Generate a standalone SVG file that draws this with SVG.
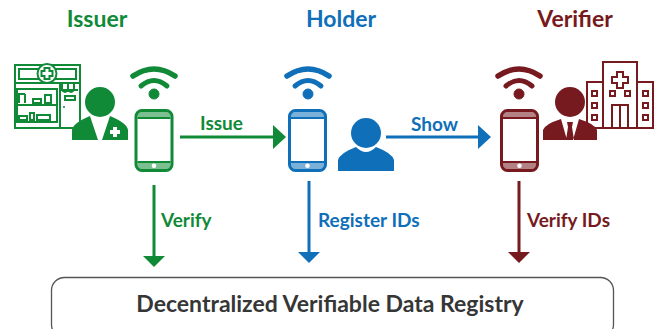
<svg xmlns="http://www.w3.org/2000/svg" width="659" height="329" viewBox="0 0 659 329">
<style>
text{font-family:"Lato","Open Sans","Liberation Sans",sans-serif;font-weight:700}
.g{fill:#108a37}.b{fill:#0f6fb8}.r{fill:#761a20}
.sg{stroke:#108a37}.sb{stroke:#0f6fb8}.sr{stroke:#761a20}
.l{fill:none;stroke-width:2}
.c{stroke-width:3;fill:none}
.w{fill:none;stroke-linecap:round}
.head{font-size:23px;text-anchor:middle}
.lab{font-size:19px}
</style>
<defs>
<g id="wifi">
<path class="w" stroke-width="5.500" d="M-21 -18Q0 -32 21 -18"/>
<path class="w" stroke-width="5" d="M-13 -8Q0 -19 13 -8"/>
<circle r="5" cy="0"/>
</g>
<g id="phone">
<rect x="1.500" y="1.500" width="36" height="60" rx="6" fill="#fff" stroke-width="3" stroke="currentColor"/>
<path d="M3 8V7Q3 3 7 3H32Q36 3 36 7V8Z" fill="currentColor" opacity=".55"/>
<path d="M3 53H36V56Q36 60 32 60H7Q3 60 3 56Z" fill="currentColor" opacity=".55"/>
<rect x="3" y="8" width="33" height="2" fill="currentColor"/>
<rect x="3" y="52" width="33" height="2" fill="currentColor"/>
<circle cx="19.500" cy="56.800" r="2.300" fill="#fff"/>
</g>
</defs>
<g id="connectors">
<path class="c sg" d="M180 137H275"/><path class="g" d="M273 125L286 137L273 149Z"/>
<path class="c sb" d="M386 137H480"/><path class="b" d="M478 125L491 137L478 149Z"/>
<path class="c sg" d="M154 185V258"/><path class="g" d="M143 256H165L154 267Z"/>
<path class="c sb" d="M309 181V254"/><path class="b" d="M298 252H320L309 263Z"/>
<path class="c sr" d="M519 181V254"/><path class="r" d="M508 252H530L519 263Z"/>
</g>
<g id="issuer">
<text class="head g" x="97" y="27">Issuer</text>
<use href="#wifi" x="154" y="94" class="g sg"/>
<use href="#phone" x="134.500" y="109" style="color:#108a37"/>
<g class="l sg">
<rect x="15" y="65" width="65" height="63"/>
<rect x="19" y="69" width="57" height="10"/>
<path d="M15 83H80M17 89H57V122H17ZM17 105H57M60 128V83M60 90H78"/>
<path d="M62 84V90Q65 94 68 90V84M68 90Q71 94 74 90V84"/>
<circle cx="47" cy="73.500" r="9.500" fill="#fff"/>
<path d="M44.500 68h5v3h3v5h-3v3h-5v-3h-3v-5h3z" fill="#fff"/>
<rect x="65" y="96" width="10" height="4"/>
<path d="M19 103V94H25M25 94V103M33 103V99H41V103ZM45 103V95H51V103ZM19 120V116H27V120ZM30 120V113H34V120ZM37 120V115H50V120Z"/>
</g>
<circle cx="64" cy="107" r="1" class="g"/>
<circle cx="100" cy="102" r="15" class="g"/>
<path class="g" d="M72 140V130Q73 123 90 116L98 140ZM128 140V130Q127 123 110 116L102 140Z"/>
<path d="M113 127h4v3h3v4h-3v3h-4v-3h-3v-4h3z" fill="#fff"/>
</g>
<g id="holder">
<text class="head b" x="341" y="27">Holder</text>
<use href="#wifi" x="308" y="94" class="b sb"/>
<use href="#phone" x="288" y="109" style="color:#0f6fb8"/>
<circle cx="366" cy="133" r="15" class="b"/>
<path class="b" d="M338 171V160Q340 153 356 147Q366 157 376 147Q392 153 394 160V171Z"/>
</g>
<g id="verifier">
<text class="head r" x="575" y="27">Verifier</text>
<use href="#wifi" x="519" y="94" class="r sr"/>
<use href="#phone" x="500" y="109" style="color:#761a20"/>
<g class="l sr">
<path d="M603 128V62H637V128M603 82H587V128H653V82H637"/>
<path d="M612 128V105H628V128M620 105V128"/>
<path d="M617 72h6v5h5v6h-5v5h-6v-5h-5v-6h5z"/>
<rect x="592" y="91" width="5" height="5"/><rect x="592" y="103" width="5" height="5"/><rect x="592" y="115" width="5" height="5"/>
<rect x="610" y="91" width="5" height="5"/><rect x="625" y="91" width="5" height="5"/>
<rect x="643" y="91" width="5" height="5"/><rect x="643" y="103" width="5" height="5"/><rect x="643" y="115" width="5" height="5"/>
</g>
<circle cx="570" cy="102" r="15" class="r"/>
<path class="r" d="M543 140V130Q545 124 561 119L567 140ZM597 140V130Q595 124 579 119L573 140ZM567 122H573L572 127L574 140H566L568 127Z"/>
</g>
<g id="labels">
<text class="lab g" x="200" y="130">Issue</text>
<text class="lab b" x="411" y="131">Show</text>
<text class="lab g" x="161" y="227">Verify</text>
<text class="lab b" x="318" y="227">Register IDs</text>
<text class="lab r" x="527" y="227">Verify IDs</text>
</g>
<g id="registry">
<rect x="51.500" y="277.500" width="562" height="60" rx="13" fill="#fff" stroke="#555" stroke-width="1.300"/>
<text x="330" y="312" font-size="23" text-anchor="middle" fill="#363636">Decentralized Verifiable Data Registry</text>
</g>
</svg>
